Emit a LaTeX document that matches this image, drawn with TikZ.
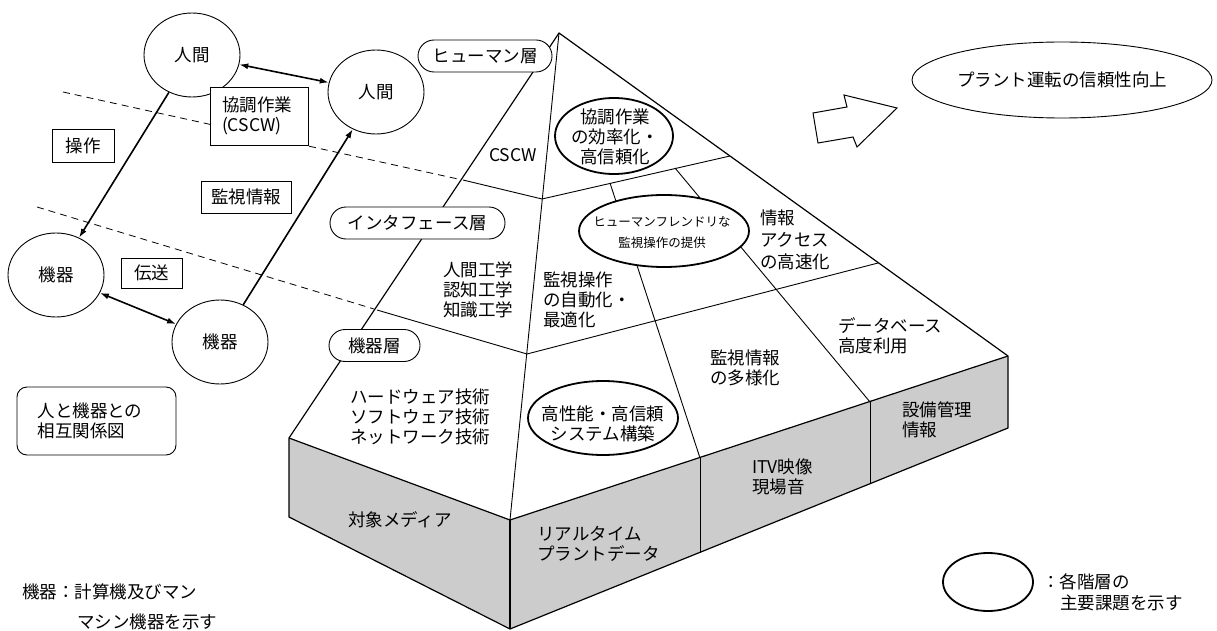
\documentclass[tikz,border=0pt]{standalone}
\usepackage{fontspec}
\setmainfont{Noto Sans CJK JP}
\usetikzlibrary{arrows.meta,shapes.geometric}
\newcommand{\jpsize}{\fontsize{17.5}{20}\selectfont}
\begin{document}
\begin{tikzpicture}[x=1pt,y=-1pt,
  >={Latex[length=9pt,width=6pt,fill=gray!50]},
  jp/.style={font=\jpsize, inner sep=0pt, align=left},
  circ/.style={ellipse, draw, line width=0.9pt, minimum width=96pt, minimum height=84pt, inner sep=0pt, font=\jpsize},
  sqbox/.style={rectangle, draw, line width=0.9pt, fill=white, inner sep=0pt, font=\jpsize, align=left},
  layerbox/.style={rectangle, draw, line width=0.9pt, fill=white, rounded corners=16pt, minimum height=32pt, inner sep=0pt, font=\jpsize},
  issue/.style={ellipse, draw, line width=1.8pt, fill=white, inner sep=0pt},
  conn/.style={line width=1.6pt},
  edge/.style={line width=1.2pt, line join=round},
  inner/.style={line width=0.9pt},
  face/.style={fill=black!20, draw=none},
  guide/.style={line width=0.8pt, dash pattern=on 7pt off 5pt}
]
\useasboundingbox (0,0) rectangle (1217,631);

% pyramid coordinates
\coordinate (A) at (559,33);
\coordinate (L) at (289,438);
\coordinate (F) at (510,520);
\coordinate (R) at (1008,356);
\coordinate (Lb) at (289,517);
\coordinate (Fb) at (510,629);
\coordinate (Rb) at (1008,428);
\coordinate (H1) at (463,180);
\coordinate (H2) at (542,199);
\coordinate (H3) at (730,156);
\coordinate (I1) at (377,310);
\coordinate (I2) at (527,354);
\coordinate (I3) at (878,263);
\coordinate (P1) at (610,183);
\coordinate (Q1) at (700,458);
\coordinate (P2) at (675,168);
\coordinate (Q2) at (870,402);
\coordinate (Q1b) at (700,553);
\coordinate (Q2b) at (870,484);

% shaded faces of the base
\fill[face] (L) -- (F) -- (Fb) -- (Lb) -- cycle;
\fill[face] (F) -- (R) -- (Rb) -- (Fb) -- cycle;

% pyramid lines
\draw[inner] (H1) -- (H2) -- (H3);
\draw[inner] (I1) -- (I2) -- (I3);
\draw[inner] (A) -- (F);
\draw[inner] (P1) -- (Q1);
\draw[inner] (P2) -- (Q2);
\draw[inner] (Q1) -- (Q1b);
\draw[inner] (Q2) -- (Q2b);
\draw[edge] (A) -- (L) -- (Lb) -- (Fb) -- (Rb) -- (R) -- cycle;
\draw[edge] (L) -- (F) -- (R);
\draw[edge] (F) -- (Fb);

% dashed guide lines
\coordinate (d1a) at (63,92);
\coordinate (d1b) at (458,179);
\coordinate (d2a) at (37,207);
\coordinate (d2b) at (374,309);
\draw[guide] (d1a) -- (d1b);
\draw[guide] (d2a) -- (d2b);

% left-hand relation diagram
\node[circ] (h1) at (192,55) {人間};
\node[circ] (h2) at (376,92) {人間};
\node[circ] (m1) at (56,275) {機器};
\node[circ] (m2) at (220,342) {機器};

\node[sqbox, minimum width=98pt, minimum height=58pt, text width=74pt] (bcs) at (259,116) {協調作業\\(CSCW)};
\node[sqbox, minimum width=62pt, minimum height=33pt] (bop) at (83,145.5) {操作};
\node[sqbox, minimum width=90pt, minimum height=32pt] (bmon) at (246,197) {監視情報};
\node[sqbox, minimum width=61pt, minimum height=30pt] (btr) at (151.5,273) {伝送};

\draw[conn,<->] (h1) -- (h2);
\draw[conn,->] (h1) -- (m1);
\draw[conn,->] (m2) -- (h2);
\draw[conn,<->] (m1) -- (m2);

\node[sqbox, rounded corners=10pt, minimum width=159pt, minimum height=68pt, text width=118pt] (rel) at (96.5,421) {人と機器との\\相互関係図};

\node[jp, anchor=west] (note1) at (22,592) {機器：計算機及びマン};
\node[jp, anchor=west] (note2) at (77,622) {マシン機器を示す};

% layer labels
\node[layerbox, minimum width=134pt] (lh) at (485,56) {ヒューマン層};
\node[layerbox, minimum width=175pt] (li) at (417.5,223) {インタフェース層};
\node[layerbox, minimum width=91pt] (ld) at (374.5,345.5) {機器層};

% issue ellipses
\node[issue, minimum width=118pt, minimum height=76pt] (e1) at (614,136) {};
\node[jp, align=center] (e1t) at (615,137) {協調作業\\の効率化・\\高信頼化};
\node[issue, minimum width=170pt, minimum height=72pt] (e2) at (664,231) {};
\node[font=\fontsize{12.5}{21}\selectfont, inner sep=0pt, align=center] (e2t) at (662,232) {ヒューマンフレンドリな\\監視操作の提供};
\node[issue, minimum width=150pt, minimum height=74pt] (e3) at (603,418) {};
\node[jp, align=center] (e3t) at (603,424) {高性能・高信頼\\システム構築};

% face texts
\node[font=\jpsize, inner sep=0pt] (tcscw) at (513,155) {CSCW};
\node[jp, anchor=west] (thum) at (443,290) {人間工学\\認知工学\\知識工学};
\node[jp, anchor=west] (tauto) at (543,300) {監視操作\\の自動化・\\最適化};
\node[jp, anchor=west, font=\fontsize{17.5}{22}\selectfont] (tacc) at (760,240) {情報\\アクセス\\の高速化};
\node[jp, anchor=west] (tdb) at (838,336) {データベース\\高度利用};
\node[jp, anchor=west] (tdiv) at (710,368) {監視情報\\の多様化};
\node[jp, anchor=west] (thw) at (350,417) {ハードウェア技術\\ソフトウェア技術\\ネットワーク技術};
\node[jp] (tmed) at (400,520) {対象メディア};
\node[jp, anchor=west] (trt) at (537,544) {リアルタイム\\プラントデータ};
\node[jp, anchor=west] (titv) at (752,477) {ITV映像\\現場音};
\node[jp, anchor=west] (tfac) at (902,420) {設備管理\\情報};

% goal
\coordinate (ar1) at (813,113);
\coordinate (ar2) at (847,107);
\coordinate (ar3) at (844,95);
\coordinate (ar4) at (897,108);
\coordinate (ar5) at (857,147);
\coordinate (ar6) at (853,137);
\coordinate (ar7) at (818,143);
\draw[line width=1pt, line join=miter, fill=white] (ar1) -- (ar2) -- (ar3) -- (ar4) -- (ar5) -- (ar6) -- (ar7) -- cycle;
\node[ellipse, draw, line width=0.9pt, minimum width=300pt, minimum height=76pt, inner sep=0pt, font=\jpsize] (goal) at (1062,80) {プラント運転の信頼性向上};

% legend
\node[issue, minimum width=90pt, minimum height=58pt] (leg) at (988,582) {};
\node[jp, anchor=west] (leg1) at (1042,582) {：各階層の};
\node[jp, anchor=west] (leg2) at (1060,603) {主要課題を示す};
\end{tikzpicture}
\end{document}
